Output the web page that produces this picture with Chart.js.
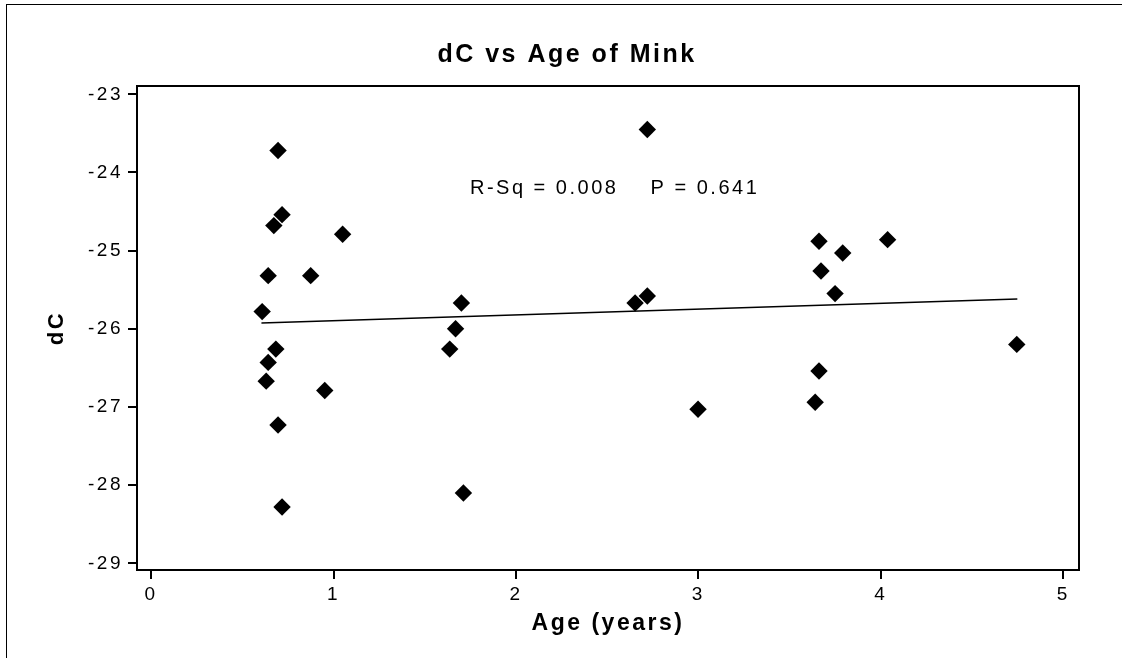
<!DOCTYPE html>
<html><head><meta charset="utf-8">
<script src="https://cdn.jsdelivr.net/npm/chart.js@4.4.1/dist/chart.umd.min.js"></script>
<style>
html,body{margin:0;padding:0;background:#fff;overflow:hidden;}
#wrap{position:relative;width:1122px;height:658px;}
#frame{position:absolute;left:6px;top:4px;width:1200px;height:700px;border-left:1.5px solid #000;border-top:1.5px solid #000;pointer-events:none;}
canvas{position:absolute;left:0;top:0;}
</style></head><body>
<div id="wrap"><canvas id="c" width="1122" height="658"></canvas><div id="frame"></div></div>
<script>
// ---- data ----
const ageYears = [0.696, 0.718, 0.673, 1.050, 0.642, 0.875, 0.609, 0.684, 0.642, 0.631, 0.952, 0.696, 0.718,
                  1.701, 1.669, 1.637, 1.712, 2.720, 2.720, 2.653, 2.998,
                  3.661, 4.037, 3.791, 3.672, 3.749, 3.661, 3.640, 4.745];
const dC = [-23.72, -24.54, -24.68, -24.79, -25.32, -25.32, -25.78, -26.26, -26.43, -26.67, -26.79, -27.23, -28.28,
            -25.67, -26.00, -26.26, -28.10, -23.45, -25.58, -25.67, -27.03,
            -24.88, -24.86, -25.03, -25.26, -25.55, -26.54, -26.94, -26.20];
const fitAge = [0.605, 4.748];
const fitDC = [-25.925, -25.62];
const xTickValues = [0, 1, 2, 3, 4, 5];
const xTickLabels = ['0', '1', '2', '3', '4', '5'];
const yTickValues = [-29, -28, -27, -26, -25, -24, -23];
const yTickLabels = ['-29', '-28', '-27', '-26', '-25', '-24', '-23'];
const xLimits = [-0.077, 5.086];
const yLimits = [-29.086, -22.894];
const chartTitle = 'dC vs Age of Mink';
const xTitle = 'Age (years)';
const yTitle = 'dC';
const statsText = 'R-Sq = 0.008    P = 0.641';
const statsAnchor = [1.748, -24.2];

// ---- styling ----
const FONT = "'Liberation Sans', Arial, sans-serif";
const LS = '2.5px';

const spacing = {
  id: 'spacing',
  beforeLayout(c) { c.ctx.letterSpacing = LS; },
  beforeDraw(c) { c.ctx.letterSpacing = LS; }
};
const stats = {
  id: 'stats',
  afterDatasetsDraw(c) {
    const ctx = c.ctx, xs = c.scales.x, ys = c.scales.y;
    ctx.save();
    ctx.letterSpacing = LS;
    ctx.font = '20px ' + FONT;
    ctx.fillStyle = '#000';
    ctx.textAlign = 'left';
    ctx.textBaseline = 'middle';
    ctx.fillText(statsText, xs.getPixelForValue(statsAnchor[0]), ys.getPixelForValue(statsAnchor[1]));
    ctx.restore();
  }
};
const fixW = w => s => { s.width = w; };
const fixH = h => s => { s.height = h; };

new Chart(document.getElementById('c'), {
  type: 'scatter',
  data: {
    datasets: [
      {
        label: 'dC',
        data: ageYears.map((a, i) => ({ x: a, y: dC[i] })),
        pointStyle: 'rectRot',
        pointRadius: 8.7,
        pointHoverRadius: 8.7,
        backgroundColor: '#000',
        borderColor: '#000',
        borderWidth: 0
      },
      {
        type: 'line',
        label: 'fit',
        data: fitAge.map((a, i) => ({ x: a, y: fitDC[i] })),
        borderColor: '#000',
        borderWidth: 1.5,
        pointRadius: 0,
        fill: false
      }
    ]
  },
  options: {
    responsive: false,
    animation: false,
    events: [],
    layout: { padding: { left: 12, right: 0, top: 0, bottom: 0 } },
    plugins: {
      legend: { display: false },
      tooltip: { enabled: false },
      title: {
        display: true, text: chartTitle, color: '#000',
        font: { family: FONT, size: 25, weight: 'bold' },
        padding: { top: 40.5, bottom: 4.5 }
      }
    },
    scales: {
      x: {
        type: 'linear', position: 'bottom', min: xLimits[0], max: xLimits[1],
        afterBuildTicks: s => { s.ticks = xTickValues.map(v => ({ value: v })); },
        afterFit: fixH(88),
        grid: { drawOnChartArea: false, drawTicks: true, tickLength: 9, color: '#000', lineWidth: 2 },
        border: { display: true, color: '#000', width: 2 },
        ticks: { color: '#000', font: { family: FONT, size: 19 }, padding: 4, maxRotation: 0,
                 callback: (v, i) => xTickLabels[i] },
        title: { display: true, text: xTitle, color: '#000',
                 font: { family: FONT, size: 23, weight: 'bold' }, padding: { top: 0, bottom: 21 } }
      },
      y: {
        type: 'linear', position: 'left', min: yLimits[0], max: yLimits[1],
        afterBuildTicks: s => { s.ticks = yTickValues.map(v => ({ value: v })); },
        afterFit: fixW(125),
        grid: { drawOnChartArea: false, drawTicks: true, tickLength: 9, color: '#000', lineWidth: 2 },
        border: { display: true, color: '#000', width: 2 },
        ticks: { color: '#000', font: { family: FONT, size: 19 }, padding: 5,
                 callback: (v, i) => yTickLabels[i] },
        title: { display: true, text: yTitle, color: '#000',
                 font: { family: FONT, size: 22, weight: 'bold' }, padding: { top: 32, bottom: 0 } }
      },
      x2: {
        type: 'linear', position: 'top', min: xLimits[0], max: xLimits[1],
        afterFit: fixH(11),
        grid: { display: false }, ticks: { display: false },
        border: { display: true, color: '#000', width: 2 }
      },
      y2: {
        type: 'linear', position: 'right', min: yLimits[0], max: yLimits[1],
        afterFit: fixW(43),
        grid: { display: false }, ticks: { display: false },
        border: { display: true, color: '#000', width: 2 }
      }
    }
  },
  plugins: [spacing, stats]
});
</script>
</body></html>
